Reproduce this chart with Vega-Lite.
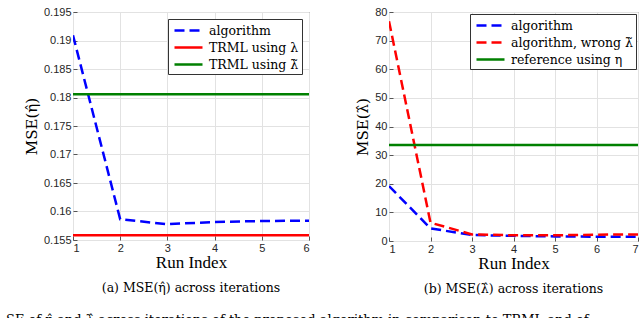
{
  "$schema": "https://vega.github.io/schema/vega-lite/v6.json",
  "padding": {"left": 5, "top": 5, "right": 2, "bottom": 0},
  "background": "white",
  "spacing": 45,
  "config": {
    "font": "Liberation Serif",
    "view": {"stroke": "#555555", "strokeWidth": 1},
    "axis": {
      "labelFont": "Liberation Sans",
      "labelFontSize": 11,
      "labelColor": "#262626",
      "titleFont": "Liberation Serif",
      "titleFontSize": 17,
      "titleFontWeight": "normal",
      "titleColor": "#000000",
      "gridColor": "#e2e2e2",
      "domain": false,
      "tickColor": "#555555",
      "tickSize": -4,
      "labelPadding": 7
    },
    "legend": {
      "orient": "top-right",
      "fillColor": "white",
      "strokeColor": "#333333",
      "padding": 3,
      "labelFont": "DejaVu Serif",
      "labelFontSize": 12.5,
      "labelColor": "#000000",
      "symbolType": "M-2,0H2",
      "symbolSize": 196,
      "symbolStrokeWidth": 2.5,
      "symbolOffset": 9,
      "labelOffset": 12,
      "rowPadding": 2,
      "title": null
    }
  },
  "title": {
    "text": "SE of η̂ and λ̂ across iterations of the proposed algorithm in comparison to TRML and of",
    "orient": "bottom",
    "anchor": "start",
    "font": "DejaVu Serif",
    "fontSize": 13,
    "fontWeight": "normal",
    "color": "#000000",
    "offset": 18,
    "dx": -18
  },
  "datasets": {
    "left": [
      {"run": 1, "mse": 0.1909, "series": "algorithm"},
      {"run": 2, "mse": 0.15863, "series": "algorithm"},
      {"run": 3, "mse": 0.15778, "series": "algorithm"},
      {"run": 4, "mse": 0.15816, "series": "algorithm"},
      {"run": 5, "mse": 0.15833, "series": "algorithm"},
      {"run": 6, "mse": 0.15839, "series": "algorithm"},
      {"run": 1, "mse": 0.15585, "series": "TRML using λ"},
      {"run": 6, "mse": 0.15585, "series": "TRML using λ"},
      {"run": 1, "mse": 0.18056, "series": "TRML using λ̃"},
      {"run": 6, "mse": 0.18056, "series": "TRML using λ̃"}
    ],
    "right": [
      {"run": 1, "mse": 19.2, "series": "algorithm"},
      {"run": 2, "mse": 4.4, "series": "algorithm"},
      {"run": 3, "mse": 2.1, "series": "algorithm"},
      {"run": 4, "mse": 1.8, "series": "algorithm"},
      {"run": 5, "mse": 1.6, "series": "algorithm"},
      {"run": 6, "mse": 1.5, "series": "algorithm"},
      {"run": 7, "mse": 1.5, "series": "algorithm"},
      {"run": 1, "mse": 76.8, "series": "algorithm, wrong λ̃"},
      {"run": 2, "mse": 6.4, "series": "algorithm, wrong λ̃"},
      {"run": 3, "mse": 2.3, "series": "algorithm, wrong λ̃"},
      {"run": 4, "mse": 2.0, "series": "algorithm, wrong λ̃"},
      {"run": 5, "mse": 2.0, "series": "algorithm, wrong λ̃"},
      {"run": 6, "mse": 2.2, "series": "algorithm, wrong λ̃"},
      {"run": 7, "mse": 2.3, "series": "algorithm, wrong λ̃"},
      {"run": 1, "mse": 33.5, "series": "reference using η"},
      {"run": 7, "mse": 33.5, "series": "reference using η"}
    ]
  },
  "resolve": {"scale": {"color": "independent", "strokeDash": "independent"}, "legend": {"color": "independent", "strokeDash": "independent"}},
  "hconcat": [
    {
      "width": 236,
      "height": 228,
      "data": {"name": "left"},
      "title": {"text": "(a) MSE(η̂) across iterations", "orient": "bottom", "anchor": "middle", "font": "DejaVu Serif", "fontSize": 12.5, "fontWeight": "normal", "color": "#000000", "offset": 12},
      "mark": {"type": "line", "strokeWidth": 2.5, "clip": true},
      "encoding": {
        "x": {"field": "run", "type": "quantitative", "title": "Run Index", "scale": {"domain": [1, 6], "nice": false, "zero": false}, "axis": {"values": [1, 2, 3, 4, 5, 6], "titlePadding": 1, "labelPadding": 6}},
        "y": {"field": "mse", "type": "quantitative", "title": "MSE(η̂)", "scale": {"domain": [0.155, 0.195], "nice": false, "zero": false}, "axis": {"values": [0.155, 0.16, 0.165, 0.17, 0.175, 0.18, 0.185, 0.19, 0.195], "format": "~g", "titlePadding": 4, "labelPadding": 6, "titleFont": "DejaVu Serif", "titleFontSize": 15}},
        "color": {"field": "series", "type": "nominal", "sort": null, "scale": {"domain": ["algorithm", "TRML using λ", "TRML using λ̃"], "range": ["#0000ff", "#ff0000", "#008000"]}, "legend": {"offset": 7}},
        "strokeDash": {"field": "series", "type": "nominal", "sort": null, "scale": {"domain": ["algorithm", "TRML using λ", "TRML using λ̃"], "range": [[10, 5], [1, 0], [1, 0]]}, "legend": {"offset": 7}}
      }
    },
    {
      "width": 249,
      "height": 229,
      "data": {"name": "right"},
      "title": {"text": "(b) MSE(λ̂) across iterations", "orient": "bottom", "anchor": "middle", "font": "DejaVu Serif", "fontSize": 12.5, "fontWeight": "normal", "color": "#000000", "offset": 12},
      "mark": {"type": "line", "strokeWidth": 2.5, "clip": true},
      "encoding": {
        "x": {"field": "run", "type": "quantitative", "title": "Run Index", "scale": {"domain": [1, 7], "nice": false, "zero": false}, "axis": {"values": [1, 2, 3, 4, 5, 6, 7], "titlePadding": 1, "labelPadding": 6}},
        "y": {"field": "mse", "type": "quantitative", "title": "MSE(λ̂)", "scale": {"domain": [0, 80], "nice": false}, "axis": {"values": [0, 10, 20, 30, 40, 50, 60, 70, 80], "titlePadding": 4, "labelPadding": 6, "titleFont": "DejaVu Serif", "titleFontSize": 15}},
        "color": {"field": "series", "type": "nominal", "sort": null, "scale": {"domain": ["algorithm", "algorithm, wrong λ̃", "reference using η"], "range": ["#0000ff", "#ff0000", "#008000"]}, "legend": {"offset": 2}},
        "strokeDash": {"field": "series", "type": "nominal", "sort": null, "scale": {"domain": ["algorithm", "algorithm, wrong λ̃", "reference using η"], "range": [[10, 5], [10, 5], [1, 0]]}, "legend": {"offset": 2}}
      }
    }
  ]
}
